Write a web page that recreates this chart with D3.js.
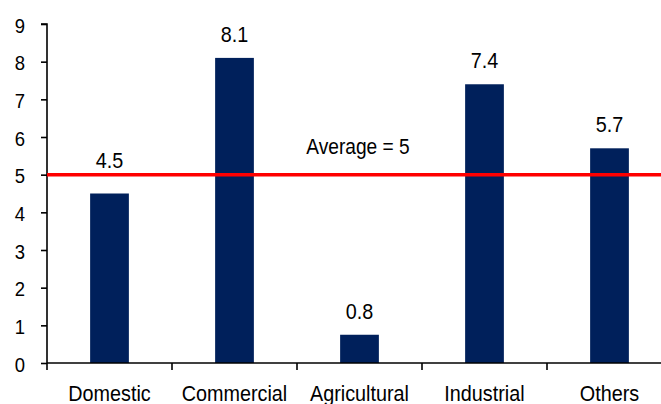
<!DOCTYPE html>
<html>
<head>
<meta charset="utf-8">
<script src="https://cdn.jsdelivr.net/npm/d3@7"></script>
<style>
  html, body { margin: 0; padding: 0; background: #fff; }
  svg { display: block; }
  text { font-family: "Liberation Sans", Arial, sans-serif; fill: #000; }
</style>
</head>
<body>
<svg id="chart" width="661" height="404"></svg>
<script>
const categories = ["Domestic", "Commercial", "Agricultural", "Industrial", "Others"];
const values = [4.5, 8.1, 0.75, 7.4, 5.7];
const yTicks = [0, 1, 2, 3, 4, 5, 6, 7, 8, 9];
const averageValue = 5;
const averageLabel = "Average = 5";

(function () {
const svg = d3.select("#chart");
const mLeft = 47, mRight = 672, mTop = 24, mBottom = 363;

const x = d3.scaleBand().domain(categories).range([mLeft, mRight]).padding(0);
const y = d3.scaleLinear().domain([0, 9]).range([mBottom, mTop]);
const barW = x.bandwidth() * 0.31;
const fmt = d3.format(".1f");

// helper: horizontally condensed text
function label(g, tx, ty, str, anchor, size, sx) {
  g.append("text")
    .attr("transform", `translate(${tx},${ty}) scale(${sx},1)`)
    .attr("text-anchor", anchor)
    .style("font-size", size + "px")
    .text(str);
}

// bars
svg.append("g").selectAll("rect")
  .data(categories)
  .join("rect")
  .attr("x", (c) => x(c) + (x.bandwidth() - barW) / 2)
  .attr("width", barW)
  .attr("y", (c, i) => y(values[i]))
  .attr("height", (c, i) => y(0) - y(values[i]))
  .attr("fill", "#00205B");

// y axis
const yAxis = svg.append("g").attr("transform", `translate(${mLeft},0)`)
  .call(d3.axisLeft(y).tickValues(yTicks).tickSize(6).tickFormat(""));
yAxis.select(".domain").attr("d", `M-6,${y(9)}H0V${y(0)}`).attr("stroke", "#000").attr("stroke-width", 1.6);
yAxis.selectAll(".tick line").attr("stroke", "#000").attr("stroke-width", 1.6);
const yl = svg.append("g");
yTicks.forEach(t => label(yl, 25, y(t) + 8.5, String(t), "end", 21, 0.88));

// x axis
const xAxisG = svg.append("g");
xAxisG.append("line")
  .attr("x1", mLeft).attr("x2", 661)
  .attr("y1", y(0)).attr("y2", y(0))
  .attr("stroke", "#000").attr("stroke-width", 1.6);
xAxisG.selectAll("line.tk")
  .data(categories)
  .join("line")
  .attr("class", "tk")
  .attr("x1", c => x(c)).attr("x2", c => x(c))
  .attr("y1", y(0)).attr("y2", y(0) + 7)
  .attr("stroke", "#000").attr("stroke-width", 1.6);
categories.forEach(c => label(xAxisG, x(c) + x.bandwidth() / 2, 400.5, c, "middle", 22, 0.9));

// average line
const yAvg = y(averageValue);
svg.append("line")
  .attr("x1", mLeft).attr("x2", 661)
  .attr("y1", yAvg).attr("y2", yAvg)
  .attr("stroke", "#FF0000").attr("stroke-width", 3.5);
label(svg, x(categories[2]) + x.bandwidth() / 2 - 1.5, 153.5, averageLabel, "middle", 21.5, 0.89);

// value labels
const vl = svg.append("g");
categories.forEach((c, i) => {
  let base = y(values[i]) - 16;
  if (base > yAvg - 8 && base < yAvg + 20) base = yAvg - 6.5;
  label(vl, x(c) + x.bandwidth() / 2, base, fmt(values[i]), "middle", 22, 0.9);
});
})();
</script>
</body>
</html>
